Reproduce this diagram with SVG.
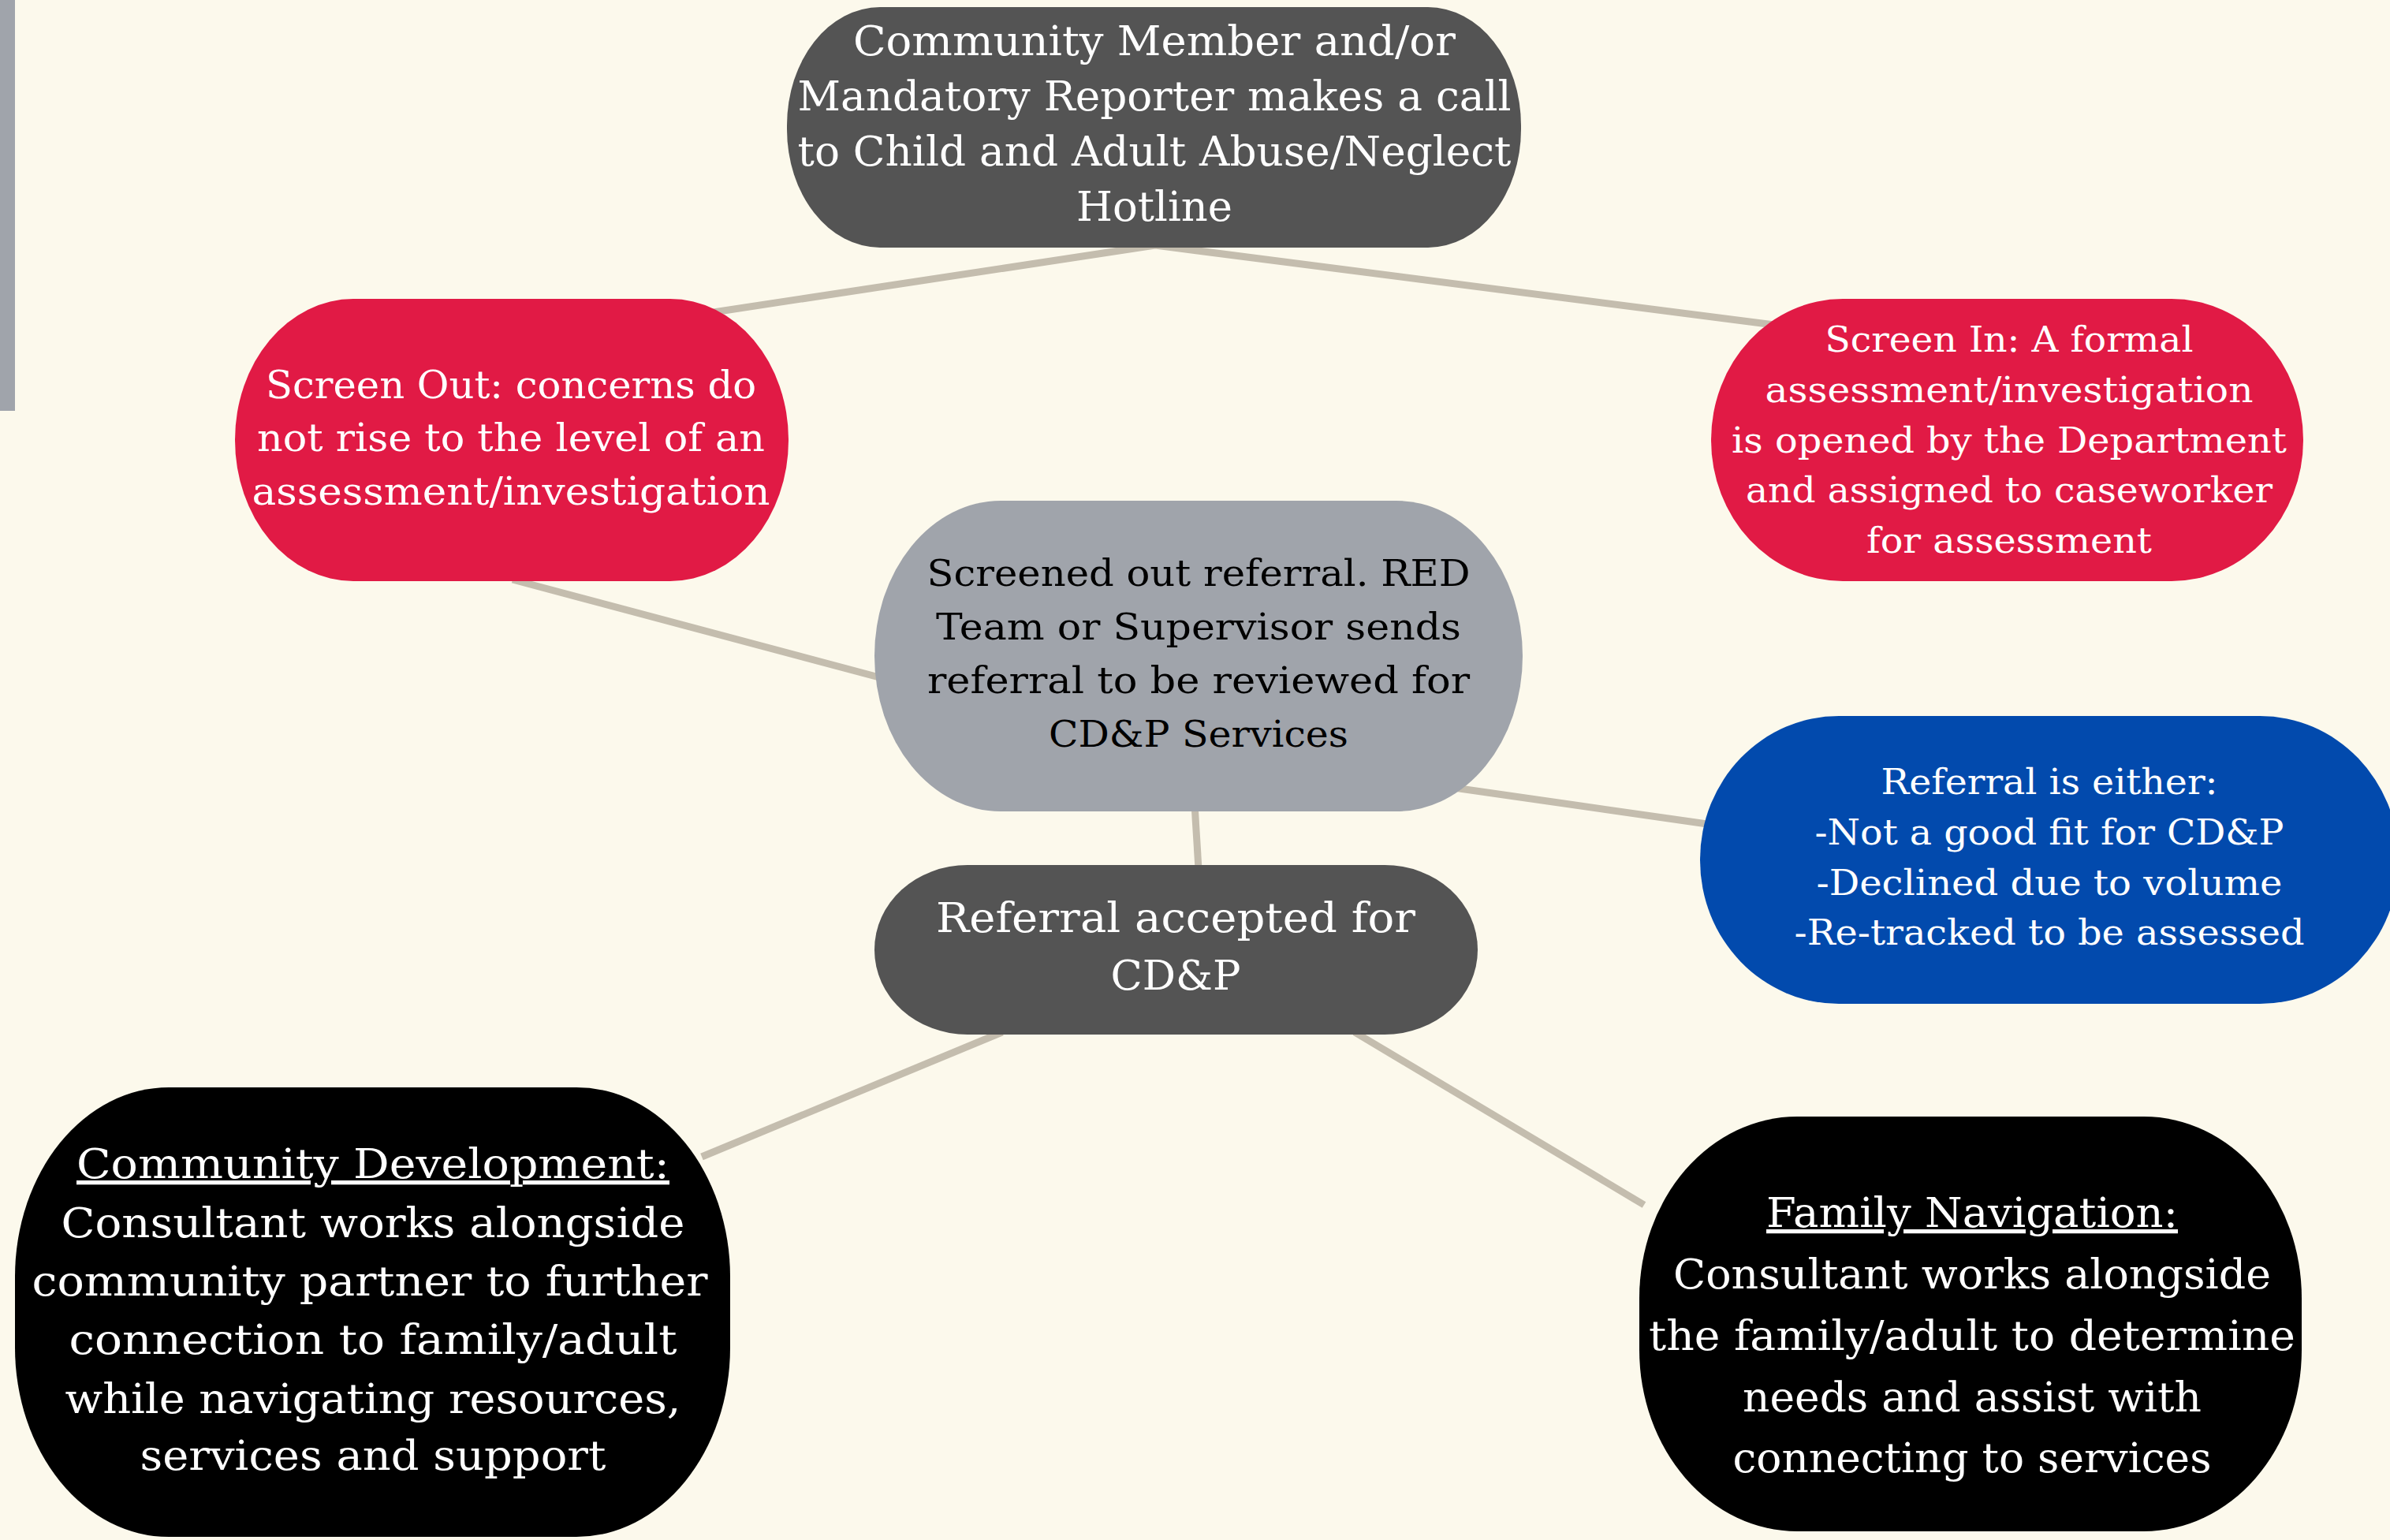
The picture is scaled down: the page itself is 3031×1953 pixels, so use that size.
<svg xmlns="http://www.w3.org/2000/svg" width="3031" height="1953" viewBox="0 0 3031 1953">
<style>
.t{font-family:"DejaVu Serif","Liberation Serif",serif;text-anchor:middle}
.t tspan{text-anchor:middle}
.w{fill:#ffffff}
.k{fill:#000000}
.c{stroke:#c4bdae;stroke-width:9;fill:none}
</style>
<rect x="0" y="0" width="3031" height="1953" fill="#fcf9ec"/>
<rect x="0" y="0" width="19" height="521" fill="#a0a4ab"/>
<g id="connectors">
<line class="c" x1="1465" y1="311" x2="885" y2="399"/>
<line class="c" x1="1465" y1="311" x2="2250" y2="412"/>
<line class="c" x1="650" y1="735" x2="1115" y2="859"/>
<line class="c" x1="1515" y1="1020" x2="1520" y2="1102"/>
<line class="c" x1="1830" y1="997" x2="2165" y2="1045"/>
<line class="c" x1="1271" y1="1309" x2="890" y2="1467"/>
<line class="c" x1="1718" y1="1309" x2="2085" y2="1528"/>
</g>
<g id="hotline">
<rect x="998" y="9" width="931" height="305" rx="118" ry="150" fill="#545454"/>
<text class="t w" font-size="52" lengthAdjust="spacingAndGlyphs"><tspan x="1464" y="70" textLength="764" lengthAdjust="spacingAndGlyphs">Community Member and/or</tspan><tspan x="1464" y="140" textLength="905" lengthAdjust="spacingAndGlyphs">Mandatory Reporter makes a call</tspan><tspan x="1464" y="210" textLength="905" lengthAdjust="spacingAndGlyphs">to Child and Adult Abuse/Neglect</tspan><tspan x="1464" y="280" textLength="198" lengthAdjust="spacingAndGlyphs">Hotline</tspan></text>
</g>
<g id="screen-out">
<rect x="298" y="379" width="702" height="358" rx="150" ry="179" fill="#e11a45"/>
<text class="t w" font-size="49"><tspan x="648" y="505" textLength="622" lengthAdjust="spacingAndGlyphs">Screen Out: concerns do</tspan><tspan x="648" y="572" textLength="644" lengthAdjust="spacingAndGlyphs">not rise to the level of an</tspan><tspan x="648" y="640" textLength="657" lengthAdjust="spacingAndGlyphs">assessment/investigation</tspan></text>
</g>
<g id="screen-in">
<rect x="2170" y="379" width="751" height="358" rx="167" ry="179" fill="#e11a45"/>
<text class="t w" font-size="45"><tspan x="2548" y="446" textLength="467" lengthAdjust="spacingAndGlyphs">Screen In: A formal</tspan><tspan x="2548" y="510" textLength="619" lengthAdjust="spacingAndGlyphs">assessment/investigation</tspan><tspan x="2548" y="574" textLength="704" lengthAdjust="spacingAndGlyphs">is opened by the Department</tspan><tspan x="2548" y="637" textLength="668" lengthAdjust="spacingAndGlyphs">and assigned to caseworker</tspan><tspan x="2548" y="701" textLength="362" lengthAdjust="spacingAndGlyphs">for assessment</tspan></text>
</g>
<g id="screened-out-referral">
<rect x="1109" y="635" width="822" height="394" rx="160" ry="197" fill="#a0a4ab"/>
<text class="t k" font-size="47"><tspan x="1520" y="743" textLength="689" lengthAdjust="spacingAndGlyphs">Screened out referral. RED</tspan><tspan x="1520" y="811" textLength="666" lengthAdjust="spacingAndGlyphs">Team or Supervisor sends</tspan><tspan x="1520" y="879" textLength="688" lengthAdjust="spacingAndGlyphs">referral to be reviewed for</tspan><tspan x="1520" y="947" textLength="380" lengthAdjust="spacingAndGlyphs">CD&amp;P Services</tspan></text>
</g>
<g id="referral-either">
<rect x="2156" y="908" width="886" height="365" rx="176" ry="182" fill="#024aad"/>
<text class="t w" font-size="44"><tspan x="2599" y="1007" textLength="427" lengthAdjust="spacingAndGlyphs">Referral is either:</tspan><tspan x="2599" y="1071" textLength="595" lengthAdjust="spacingAndGlyphs">-Not a good fit for CD&amp;P</tspan><tspan x="2599" y="1135" textLength="591" lengthAdjust="spacingAndGlyphs">-Declined due to volume</tspan><tspan x="2599" y="1198" textLength="647" lengthAdjust="spacingAndGlyphs">-Re-tracked to be assessed</tspan></text>
</g>
<g id="referral-accepted">
<rect x="1109" y="1097" width="765" height="215" rx="118" ry="107" fill="#545454"/>
<text class="t w" font-size="53"><tspan x="1491" y="1182" textLength="608" lengthAdjust="spacingAndGlyphs">Referral accepted for</tspan><tspan x="1491" y="1255" textLength="165" lengthAdjust="spacingAndGlyphs">CD&amp;P</tspan></text>
</g>
<g id="community-development">
<rect x="19" y="1379" width="907" height="570" rx="195" ry="240" fill="#000000"/>
<text class="t w" font-size="53"><tspan x="473" y="1494" textLength="752" lengthAdjust="spacingAndGlyphs" text-decoration="underline">Community Development:</tspan><tspan x="473" y="1569" textLength="791" lengthAdjust="spacingAndGlyphs">Consultant works alongside</tspan><tspan x="469" y="1643" textLength="857" lengthAdjust="spacingAndGlyphs">community partner to further</tspan><tspan x="473" y="1717" textLength="771" lengthAdjust="spacingAndGlyphs">connection to family/adult</tspan><tspan x="473" y="1792" textLength="781" lengthAdjust="spacingAndGlyphs">while navigating resources,</tspan><tspan x="473" y="1864" textLength="591" lengthAdjust="spacingAndGlyphs">services and support</tspan></text>
</g>
<g id="family-navigation">
<rect x="2079" y="1416" width="840" height="526" rx="200" ry="230" fill="#000000"/>
<text class="t w" font-size="52"><tspan x="2501" y="1556" textLength="522" lengthAdjust="spacingAndGlyphs" text-decoration="underline">Family Navigation:</tspan><tspan x="2501" y="1634" textLength="758" lengthAdjust="spacingAndGlyphs">Consultant works alongside</tspan><tspan x="2501" y="1712" textLength="820" lengthAdjust="spacingAndGlyphs">the family/adult to determine</tspan><tspan x="2501" y="1790" textLength="582" lengthAdjust="spacingAndGlyphs">needs and assist with</tspan><tspan x="2501" y="1867" textLength="607" lengthAdjust="spacingAndGlyphs">connecting to services</tspan></text>
</g>
</svg>
